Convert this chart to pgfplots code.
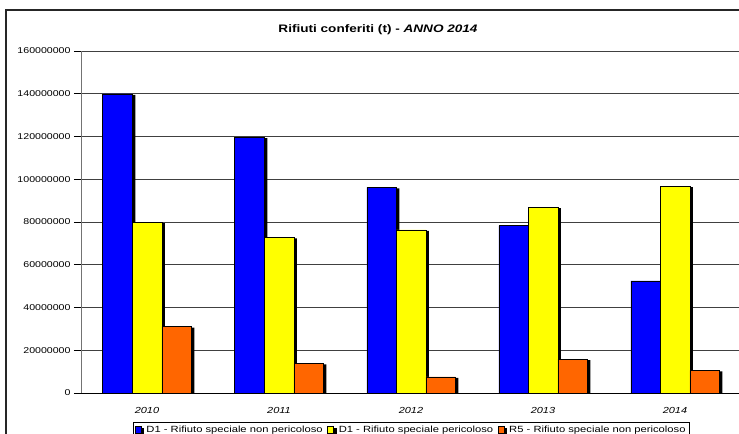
\documentclass[border=0pt]{standalone}
\usepackage{fontspec}
\setmainfont{Liberation Sans}[FakeStretch=1.25]
\usepackage{pgfplots}
\pgfplotsset{compat=1.18}

\definecolor{barblue}{RGB}{0,0,255}
\definecolor{baryellow}{RGB}{255,255,0}
\definecolor{barorange}{RGB}{255,102,0}

\pgfplotsset{
  legsq/.style={legend image code/.code={%
    \draw[fill=#1, draw=black, line width=0.5bp] (0bp,-3.3bp) rectangle (6bp,3.3bp);
    \path (-0.5bp,0bp) (9bp,0bp);}},
  barshadow/.style={preaction={fill=black, draw=none,
    transform canvas={xshift=3bp, yshift=-1bp}}},
}

\begin{document}
\begin{tikzpicture}
\useasboundingbox (0,0) rectangle (739bp,-434bp);
\clip (0,0) rectangle (739bp,-434bp);
% chart frame
\draw[line width=1.1bp, black!85] (6bp,-450bp) -- (6bp,-10bp) -- (760bp,-10bp);
\node[font=\fontsize{10.9}{12}\selectfont\bfseries] at (378bp,-30bp)
  {Rifiuti conferiti (t) - \textit{ANNO 2014}};
\begin{axis}[
  at={(81bp,-393bp)}, anchor=south west,
  width=660bp, height=342bp, scale only axis,
  xmin=-0.5, xmax=4.5, ymin=0, ymax=160000000,
  ybar=0pt, bar width=29.5bp,
  axis x line*=bottom, axis y line*=left,
  x axis line style={black, line width=1bp},
  y axis line style={black!55, line width=1bp},
  tick align=outside, major tick length=7bp,
  xtick={0,1,2,3,4},
  xticklabels={2010,2011,2012,2013,2014},
  xtick style={draw=none},
  xticklabel style={font=\fontsize{8.8}{10}\selectfont\itshape, yshift=-3.5bp},
  extra x ticks={-0.5,0.5,1.5,2.5,3.5,4.5},
  extra x tick labels={},
  extra x tick style={grid=none, major tick length=3.5bp,
    tick style={draw=black, line width=0.8bp}},
  ytick={0,20000000,40000000,60000000,80000000,100000000,120000000,140000000,160000000},
  scaled y ticks=false,
  ytick style={black, line width=0.8bp},
  yticklabel style={font=\fontsize{8.5}{9}\selectfont,
    /pgf/number format/fixed, /pgf/number format/1000 sep={},
    /pgf/number format/assume math mode=true},
  ymajorgrids,
  grid style={black!75, line width=1bp},
  legend columns=3,
  legend style={at={(0.5,-0.0848)}, anchor=north, draw=black, line width=0.8bp,
    font=\fontsize{9}{11}\selectfont, inner sep=1.5bp,
    /tikz/every even column/.append style={column sep=2bp}},
]
\addplot[fill=barblue, draw=black, line width=0.5bp, barshadow, legsq=barblue]
  coordinates {(0,140000000) (1,119700000) (2,96200000) (3,78300000) (4,52500000)};
\addplot[fill=baryellow, draw=black, line width=0.5bp, barshadow, legsq=baryellow]
  coordinates {(0,80000000) (1,72800000) (2,76300000) (3,87000000) (4,96800000)};
\addplot[fill=barorange, draw=black, line width=0.5bp, barshadow, legsq=barorange]
  coordinates {(0,31000000) (1,13900000) (2,7500000) (3,15800000) (4,10600000)};
\legend{D1 - Rifiuto speciale non pericoloso,
        D1 - Rifiuto speciale pericoloso,
        R5 - Rifiuto speciale non pericoloso}
\end{axis}
\end{tikzpicture}
\end{document}
